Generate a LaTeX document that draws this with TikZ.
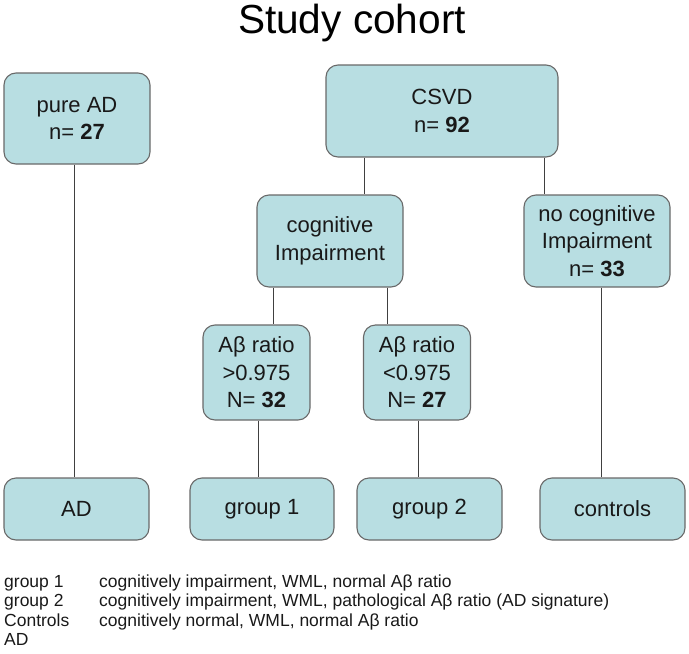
\documentclass[tikz,border=0pt]{standalone}
\usepackage{fontspec}
\setmainfont{Liberation Sans}
\usepackage{xcolor}
\usepackage{tikz}
\usetikzlibrary{positioning}
\definecolor{boxfill}{RGB}{184,222,226}
\definecolor{boxline}{RGB}{105,105,105}
\tikzset{
  box/.style={draw=boxline,fill=boxfill,rounded corners=12pt,align=center,line width=1.1pt,inner sep=0pt,font=\fontsize{22}{27.5}\selectfont,text=black!90},
  link/.style={draw=black!75,line width=0.9pt},
  legend/.style={anchor=base west,inner sep=0pt,font=\fontsize{17.5}{19.5}\selectfont,text=black!90},
}

\begin{document}
\begin{tikzpicture}[x=1pt,y=-1pt]
\useasboundingbox (0,0) rectangle (689,654);
\node[anchor=base,inner sep=0pt,font=\fontsize{40.6}{44}\selectfont] (title) at (352,33) {Study cohort};
% boxes
\node[box,minimum width=146pt,minimum height=91pt] (pure) at (77,118.5) {pure AD\\n= \textbf{27}};
\node[box,minimum width=232pt,minimum height=92pt] (csvd) at (442,111) {CSVD\\n= \textbf{92}};
\node[box,minimum width=146pt,minimum height=92pt] (cog) at (330,241) {cognitive\\Impairment};
\node[box,minimum width=146pt,minimum height=92pt] (nocog) at (597,241) {no cognitive\\Impairment\\n= \textbf{33}};
\node[box,minimum width=107pt,minimum height=95pt] (abhi) at (256.5,372.5) {Aβ ratio\\>0.975\\N= \textbf{32}};
\node[box,minimum width=107pt,minimum height=95pt] (ablo) at (417,372.5) {Aβ ratio\\<0.975\\N= \textbf{27}};
\node[box,minimum width=145pt,minimum height=62pt] (ad) at (76.5,509) {AD};
\node[box,minimum width=144pt,minimum height=62pt] (grpa) at (262,509) {group 1};
\node[box,minimum width=145pt,minimum height=62pt] (grpb) at (429.5,509) {group 2};
\node[box,minimum width=145pt,minimum height=62pt] (ctrl) at (612.5,509) {controls};
% connector columns
\coordinate (xa) at (74,0);
\coordinate (xb) at (364,0);
\coordinate (xc) at (544,0);
\coordinate (xd) at (273,0);
\coordinate (xe) at (387,0);
\coordinate (xf) at (258,0);
\coordinate (xg) at (418,0);
\coordinate (xh) at (601,0);
\draw[link] (pure.south -| xa) -- (ad.north -| xa);
\draw[link] (csvd.south -| xb) -- (cog.north -| xb);
\draw[link] (csvd.south -| xc) -- (nocog.north -| xc);
\draw[link] (cog.south -| xd) -- (abhi.north -| xd);
\draw[link] (cog.south -| xe) -- (ablo.north -| xe);
\draw[link] (abhi.south -| xf) -- (grpa.north -| xf);
\draw[link] (ablo.south -| xg) -- (grpb.north -| xg);
\draw[link] (nocog.south -| xh) -- (ctrl.north -| xh);
% legend
\node[legend] (la) at (4,587) {group 1};
\node[legend] (lb) at (4,606.5) {group 2};
\node[legend] (lc) at (4,626) {Controls};
\node[legend] (ld) at (4,645.5) {AD};
\node[legend] (da) at (99,587) {cognitively impairment, WML, normal Aβ ratio};
\node[legend] (db) at (99,606.5) {cognitively impairment, WML, pathological Aβ ratio (AD signature)};
\node[legend] (dc) at (99,626) {cognitively normal, WML, normal Aβ ratio};
\end{tikzpicture}
\end{document}
